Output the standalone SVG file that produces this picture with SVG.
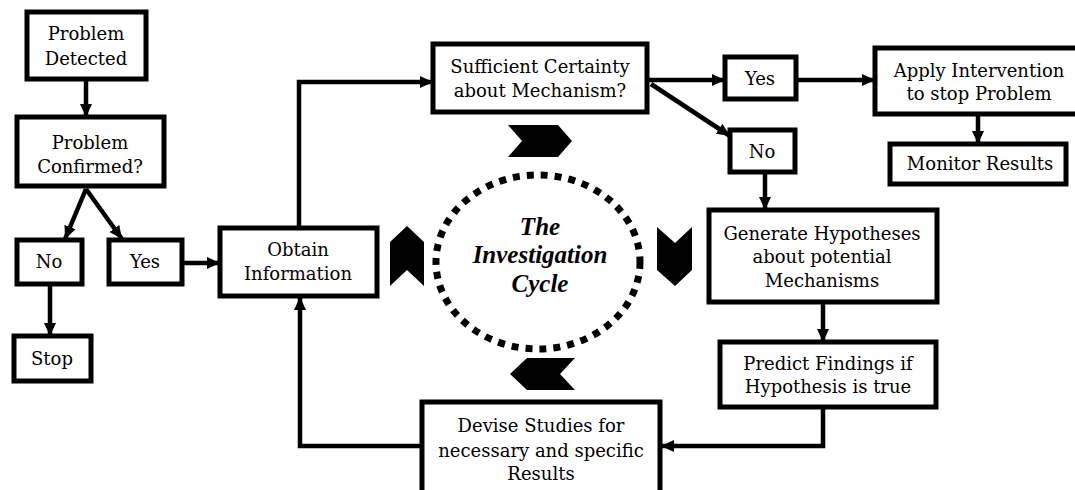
<svg xmlns="http://www.w3.org/2000/svg" width="1075" height="490" viewBox="0 0 1075 490">
<style>
.box{fill:#fff;stroke:#000;stroke-width:5}
.t{font-family:"DejaVu Serif","Liberation Serif",serif;font-size:18px;fill:#000;text-anchor:middle}
.c{fill:none;stroke:#000;stroke-width:4.5}
.ttl{font-family:"Liberation Serif","DejaVu Serif",serif;font-size:25px;font-weight:bold;font-style:italic;fill:#000;text-anchor:middle}
.chev{fill:#000}
</style>
<defs>
<marker id="ah" markerUnits="userSpaceOnUse" markerWidth="14" markerHeight="14" viewBox="0 0 14 14" refX="13" refY="7" orient="auto">
<path d="M0,1 L13,7 L0,13 Z" fill="#000"/>
</marker>
</defs>
<rect width="1075" height="490" fill="#fff"/>
<g id="connectors">
<line class="c" x1="86" y1="79" x2="86" y2="117" marker-end="url(#ah)"/>
<line class="c" x1="86" y1="189" x2="65" y2="239" marker-end="url(#ah)"/>
<line class="c" x1="86" y1="189" x2="122" y2="239" marker-end="url(#ah)"/>
<line class="c" x1="50" y1="284" x2="50" y2="336" marker-end="url(#ah)"/>
<line class="c" x1="182" y1="263" x2="220" y2="263" marker-end="url(#ah)"/>
<path class="c" d="M299,228 V82 H433" marker-end="url(#ah)"/>
<line class="c" x1="647" y1="80" x2="725" y2="80" marker-end="url(#ah)"/>
<line class="c" x1="796" y1="80" x2="875" y2="80" marker-end="url(#ah)"/>
<line class="c" x1="978" y1="114" x2="978" y2="144" marker-end="url(#ah)"/>
<line class="c" x1="651" y1="84" x2="730" y2="136" marker-end="url(#ah)"/>
<line class="c" x1="765" y1="172" x2="765" y2="210" marker-end="url(#ah)"/>
<line class="c" x1="823" y1="302" x2="823" y2="342" marker-end="url(#ah)"/>
<path class="c" d="M823,407 V446 H661" marker-end="url(#ah)"/>
<path class="c" d="M422,446 H300 V297" marker-end="url(#ah)"/>
</g>
<g id="n-detected"><rect class="box" x="27" y="12" width="119" height="67"/><text class="t" x="86" y="40">Problem</text><text class="t" x="86" y="65">Detected</text></g>
<g id="n-confirmed"><rect class="box" x="17" y="117" width="147" height="69"/><text class="t" x="90" y="149">Problem</text><text class="t" x="90" y="173">Confirmed?</text></g>
<g id="n-no1"><rect class="box" x="17" y="240" width="65" height="44"/><text class="t" x="49" y="268">No</text></g>
<g id="n-yes1"><rect class="box" x="109" y="240" width="73" height="44"/><text class="t" x="145" y="268">Yes</text></g>
<g id="n-stop"><rect class="box" x="14" y="336" width="77" height="45"/><text class="t" x="52" y="365">Stop</text></g>
<g id="n-obtain"><rect class="box" x="220" y="228" width="157" height="68"/><text class="t" x="298" y="256">Obtain</text><text class="t" x="298" y="280">Information</text></g>
<g id="n-sufficient"><rect class="box" x="433" y="44" width="214" height="68"/><text class="t" x="540" y="73">Sufficient Certainty</text><text class="t" x="540" y="97">about Mechanism?</text></g>
<g id="n-yes2"><rect class="box" x="725" y="57" width="71" height="42"/><text class="t" x="760" y="85">Yes</text></g>
<g id="n-apply"><rect class="box" x="875" y="48" width="210" height="66"/><text class="t" x="979" y="77">Apply Intervention</text><text class="t" x="979" y="100">to stop Problem</text></g>
<g id="n-monitor"><rect class="box" x="890" y="144" width="176" height="40"/><text class="t" x="980" y="170">Monitor Results</text></g>
<g id="n-no2"><rect class="box" x="730" y="130" width="65" height="42"/><text class="t" x="762" y="158">No</text></g>
<g id="n-generate"><rect class="box" x="709" y="210" width="228" height="92"/><text class="t" x="822" y="240">Generate Hypotheses</text><text class="t" x="822" y="263">about potential</text><text class="t" x="822" y="287">Mechanisms</text></g>
<g id="n-predict"><rect class="box" x="720" y="342" width="216" height="65"/><text class="t" x="828" y="370">Predict Findings if</text><text class="t" x="828" y="393">Hypothesis is true</text></g>
<g id="n-devise"><rect class="box" x="422" y="402" width="238" height="100"/><text class="t" x="541" y="432">Devise Studies for</text><text class="t" x="541" y="457">necessary and specific</text><text class="t" x="541" y="480">Results</text></g>
<g id="cycle">
<ellipse cx="538" cy="262" rx="102" ry="87" fill="none" stroke="#000" stroke-width="7" stroke-dasharray="7 7"/>
<text class="ttl" x="540" y="235">The</text>
<text class="ttl" x="540" y="263">Investigation</text>
<text class="ttl" x="540" y="292">Cycle</text>
<polygon class="chev" points="508,125 558,125 572,141 558,157 508,157 522,141"/>
<polygon class="chev" points="657,227 675,243 692,227 692,270 675,286 657,270"/>
<polygon class="chev" points="510,374 527,358 575,358 560,374 575,390 527,390"/>
<polygon class="chev" points="390,242 407,226 424,242 424,286 407,270 390,286"/>
</g>
</svg>
